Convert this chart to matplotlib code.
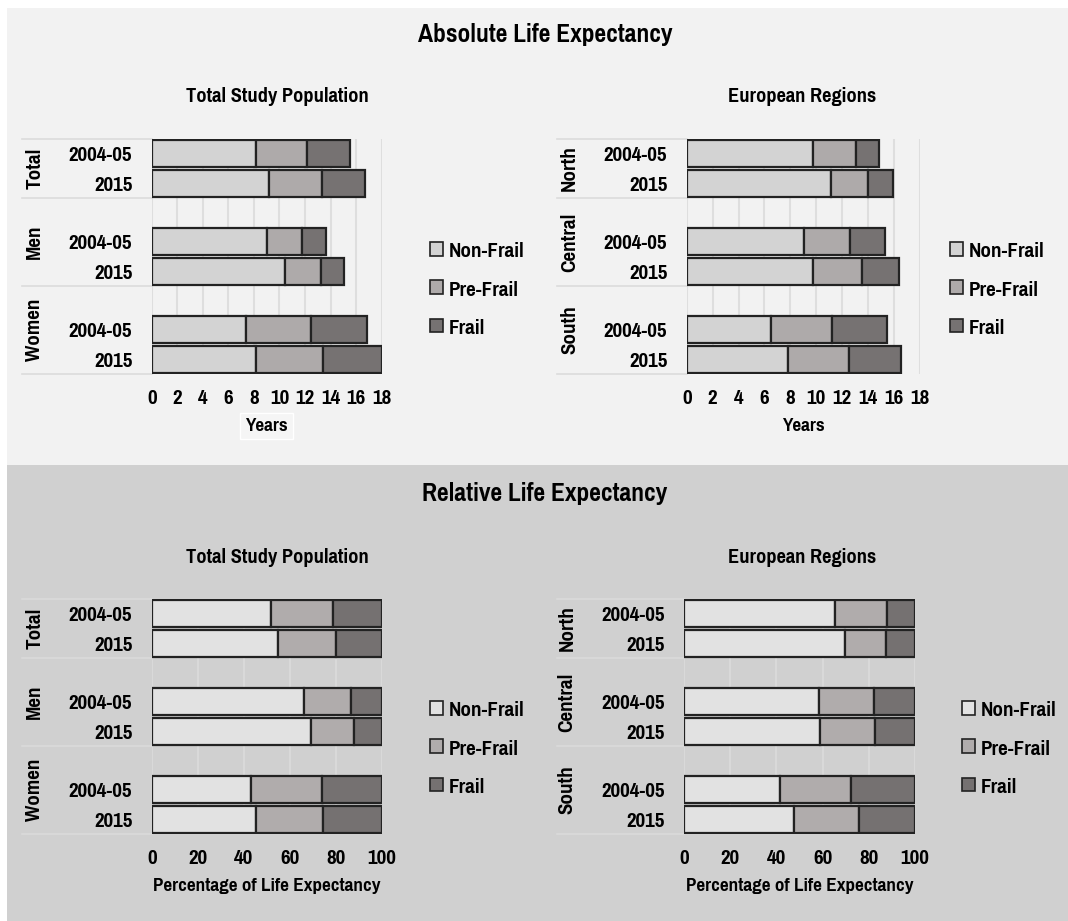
import matplotlib
matplotlib.use("Agg")
import matplotlib.pyplot as plt
import matplotlib.transforms as mtransforms
from matplotlib import font_manager
from matplotlib.patches import Rectangle, Patch

W, H = 1068, 921

# look for a narrow / condensed face, the original uses Arial Narrow
narrow = None
for f in font_manager.fontManager.ttflist:
    tag = (f.name + ' ' + f.fname).lower()
    if 'narrow' in tag or 'condensed' in tag or f.stretch in ('condensed', 'semi-condensed'):
        if narrow is None or 'narrow' in tag:
            narrow = f
if narrow is not None:
    plt.rcParams['font.family'] = [narrow.name, 'DejaVu Sans']
    plt.rcParams['font.stretch'] = narrow.stretch
    scale = 1.0
else:
    plt.rcParams['font.family'] = ['Liberation Sans', 'DejaVu Sans']
    scale = 0.8
plt.rcParams['font.weight'] = 'bold'

# data
years = ['2004-05', '2015']
pop_groups = ['Total', 'Men', 'Women']
reg_groups = ['North', 'Central', 'South']
states = ['Non-Frail', 'Pre-Frail', 'Frail']

# rows: group1 2004-05, group1 2015, group2 2004-05, ...
abs_pop_nonfrail = [8.14, 9.20, 9.02, 10.40, 7.36, 8.16]
abs_pop_prefrail = [4.03, 4.15, 2.77, 2.85, 5.13, 5.24]
abs_pop_frail = [3.33, 3.32, 1.85, 1.82, 4.38, 4.60]

abs_reg_nonfrail = [9.77, 11.10, 9.02, 9.72, 6.48, 7.84]
abs_reg_prefrail = [3.29, 2.91, 3.58, 3.83, 4.75, 4.68]
abs_reg_frail = [1.77, 1.93, 2.70, 2.83, 4.25, 3.98]

rel_pop_nonfrail = [51.9, 55.1, 66.2, 69.1, 43.2, 45.2]
rel_pop_prefrail = [26.8, 24.9, 20.3, 19.0, 30.7, 29.4]
rel_pop_frail = [21.3, 20.0, 13.5, 11.9, 26.1, 25.4]

rel_reg_nonfrail = [65.5, 69.6, 58.3, 59.0, 41.6, 47.5]
rel_reg_prefrail = [22.5, 17.8, 24.1, 23.7, 30.7, 28.1]
rel_reg_frail = [12.0, 12.6, 17.6, 17.3, 27.7, 24.4]

top_colors = ['#d3d3d3', '#aeaaaa', '#767272']
bot_colors = ['#e2e2e2', '#b0acac', '#757171']


def fx(x):
    return x / W


def fy(y):
    return 1 - y / H


fig = plt.figure(figsize=(W / 100, H / 100), dpi=100)
fig.patches.append(Rectangle((fx(7), fy(465)), 1, fy(8) - fy(465),
                             transform=fig.transFigure, fc='#f2f2f2', ec='none', zorder=-10))
fig.patches.append(Rectangle((fx(7), 0), 1, fy(465),
                             transform=fig.transFigure, fc='#d0d0d0', ec='none', zorder=-10))


def panel(x0, x1, y0, y1, groups, nonfrail, prefrail, frail, xmax, xstep,
          colors, gridc, sepc, xlabel, sep_start, label_box=False):
    ax = fig.add_axes([fx(x0), fy(y1), fx(x1) - fx(x0), fy(y0) - fy(y1)])
    ax.set_facecolor('none')
    pos = []
    for g in range(3):
        for k in range(2):
            pos.append(7 - (3 * g + k))
    left = [0] * 6
    for vals, c in zip([nonfrail, prefrail, frail], colors):
        ax.barh(pos, vals, left=left, height=0.92, color=c,
                edgecolor='#222222', linewidth=1.6, zorder=3)
        left = [a + b for a, b in zip(left, vals)]
    ax.set_xlim(0, xmax)
    ax.set_ylim(-0.5, 7.5)
    ax.set_xticks(range(0, xmax + 1, xstep))
    ax.set_yticks(pos)
    ax.set_yticklabels(years * 3)
    ax.tick_params(axis='y', length=0, pad=14, labelsize=16.5 * scale)
    ax.tick_params(axis='x', length=0, pad=11, labelsize=16.5 * scale)
    ax.grid(axis='x', color=gridc, linewidth=1.5, zorder=0)
    for s in ax.spines.values():
        s.set_visible(False)
    wpx = x1 - x0
    tr = mtransforms.blended_transform_factory(ax.transAxes, ax.transData)
    for y in [7.5, 5.5, 2.5, -0.5]:
        ax.plot([-(x0 - sep_start) / wpx, 0], [y, y],
                transform=tr, color=sepc, lw=1.2, clip_on=False, zorder=1)
    for name, yc in zip(groups, [6.5, 4.0, 1.0]):
        ax.text(-117 / wpx, yc, name, transform=tr, rotation=90,
                ha='center', va='center', fontsize=16.5 * scale, fontweight='bold')
    kw = {}
    if label_box:
        kw['bbox'] = dict(boxstyle='square,pad=0.25', fc='#f5f5f5', ec='#ffffff', lw=1)
    ax.set_xlabel(xlabel, fontsize=15 * scale, fontweight='bold', labelpad=7, **kw)
    return ax


panel(151.7, 381.7, 139, 374, pop_groups, abs_pop_nonfrail, abs_pop_prefrail,
      abs_pop_frail, 18, 2, top_colors, '#dedede', '#dcdcdc', 'Years', 22, True)
panel(686.7, 920, 139, 374, reg_groups, abs_reg_nonfrail, abs_reg_prefrail,
      abs_reg_frail, 18, 2, top_colors, '#dedede', '#dcdcdc', 'Years', 557)
panel(151.7, 381.7, 599, 834, pop_groups, rel_pop_nonfrail, rel_pop_prefrail,
      rel_pop_frail, 100, 20, bot_colors, '#d9d9d9', '#dadada',
      'Percentage of Life Expectancy', 22)
panel(684, 915, 599, 834, reg_groups, rel_reg_nonfrail, rel_reg_prefrail,
      rel_reg_frail, 100, 20, bot_colors, '#d9d9d9', '#dadada',
      'Percentage of Life Expectancy', 557)

# titles
fig.text(fx(545), fy(35), 'Absolute Life Expectancy', ha='center', va='center',
         fontsize=20 * scale, fontweight='bold')
fig.text(fx(545), fy(493), 'Relative Life Expectancy', ha='center', va='center',
         fontsize=20 * scale, fontweight='bold')
for yy in [97, 557]:
    fig.text(fx(277), fy(yy), 'Total Study Population', ha='center', va='center',
             fontsize=16 * scale, fontweight='bold')
    fig.text(fx(802), fy(yy), 'European Regions', ha='center', va='center',
             fontsize=16 * scale, fontweight='bold')

# legends
for (lx, ly, cols) in [(430, 290, top_colors), (950, 290, top_colors),
                       (430, 749, bot_colors), (962, 749, bot_colors)]:
    handles = [Patch(fc=c, ec='#222222', lw=1.2) for c in cols]
    fig.legend(handles, states, loc='center left', bbox_to_anchor=(fx(lx), fy(ly)),
               frameon=False, fontsize=16.5 * scale, handlelength=0.55, handleheight=0.55,
               handletextpad=0.25, labelspacing=0.83, borderpad=0, borderaxespad=0)

fig.savefig('out.png', dpi=100)
